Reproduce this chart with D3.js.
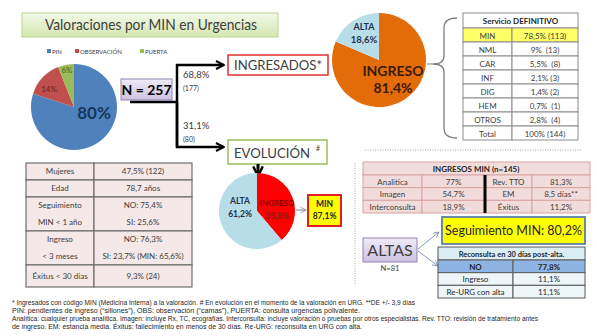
<!DOCTYPE html>
<html>
<head>
<meta charset="utf-8">
<script src="https://cdn.jsdelivr.net/npm/d3@7"></script>
<style>
  body { margin: 0; background: #fff; }
  text { font-family: Lato, 'Open Sans', sans-serif; fill: #404040; }
</style>
</head>
<body>
<script>
// ---- data ----
const origenLabels = ['PIN', 'OBSERVACIÓN', 'PUERTA'];
const origenValues = [80, 14, 6];
const origenColors = ['#4f81bd', '#c0504d', '#9bbb59'];
const totalN = 257;
const ramaPct = ['68,8%', '31,1%'];
const ramaN = [177, 80];
const ingresoLabels = ['INGRESO', 'ALTA'];
const ingresoValues = [81.4, 18.6];
const evolLabels = ['INGRESO', 'ALTA'];
const evolValues = [38.8, 61.2];
const evolMin = '87,1%';
const servicios = ['MIN', 'NML', 'CAR', 'INF', 'DIG', 'HEM', 'OTROS', 'Total'];
const servicioValues = ['78,5% (113)', '9%  (13)', '5,5%  (8)', '2,1% (3)', '1,4% (2)', '0,7%  (1)', '2,8%  (4)', '100% (144)'];
const perfilLabels = [['Mujeres'], ['Edad'], ['Seguimiento', 'MIN < 1 año'], ['Ingreso', '< 3 meses'], ['Éxitus < 30 dias']];
const perfilValues = [['47,5% (122)'], ['78,7 años'], ['NO: 75,4%', 'SI: 25,6%'], ['NO: 76,3%', 'SI: 23,7% (MIN: 65,6%)'], ['9,3% (24)']];
const perfilUnits = [1, 1, 2, 2, 1.3];
const ingMinA = ['Analitica', 'Imagen', 'Interconsulta'];
const ingMinAValues = ['77%', '54,7%', '18,9%'];
const ingMinB = ['Rev. TTO', 'EM', 'Éxitus'];
const ingMinBValues = ['81,3%', '8,5 días**', '11,2%'];
const seguimientoMin = '80,2%';
const altasN = 81;
const reconsultaLabels = ['NO', 'Ingreso', 'Re-URG con alta'];
const reconsultaValues = ['77,8%', '11,1%', '11,1%'];
const footnotes = [
  '* Ingresados con código MIN (Medicina Interna) a la valoración.  # En evolución en el momento de la valoración en URG.  **DE +/- 3,9 días',
  'PIN: pendientes de ingreso (“sillones”), OBS: observación (“camas”), PUERTA: consulta urgencias polivalente.',
  'Analítica: cualquier prueba analítica. Imagen: incluye Rx, TC, ecografías. Interconsulta: incluye valoración o pruebas por otros especialistas. Rev. TTO: revisión de tratamiento antes',
  'de ingreso. EM: estancia media.  Éxitus: fallecimiento en menos de 30 días.  Re-URG: reconsulta en URG con alta.'
];
const footnoteWidths = [403, 348, 526, 350];

// ---- svg ----
const svg = d3.select('body')
  .append('svg')
  .attr('width', 597)
  .attr('height', 336);

const defs = svg.append('defs');
function grad(id, c1, c2) {
  const g = defs.append('linearGradient').attr('id', id).attr('x1', 0).attr('y1', 0).attr('x2', 0).attr('y2', 1);
  g.append('stop').attr('offset', '0%').attr('stop-color', c1);
  g.append('stop').attr('offset', '100%').attr('stop-color', c2);
}
grad('greenGrad', '#f3f9e8', '#d4e7b0');
grad('lavGrad', '#efebf6', '#cdc2e2');

// arrow markers
defs.append('marker').attr('id', 'arrBlack')
  .attr('viewBox', '0 0 10 10').attr('refX', 9).attr('refY', 5)
  .attr('markerWidth', 4).attr('markerHeight', 4).attr('orient', 'auto')
  .attr('markerUnits', 'strokeWidth')
  .append('path').attr('d', 'M1,1 L9,5 L1,9').attr('fill', 'none').attr('stroke', '#000').attr('stroke-width', 2);
defs.append('marker').attr('id', 'arrGray')
  .attr('viewBox', '0 0 10 10').attr('refX', 9).attr('refY', 5)
  .attr('markerWidth', 7).attr('markerHeight', 7).attr('orient', 'auto')
  .attr('markerUnits', 'strokeWidth')
  .append('path').attr('d', 'M1,1 L9,5 L1,9').attr('fill', 'none').attr('stroke', '#7f8fa6').attr('stroke-width', 1.2);

// ---- title ----
svg.append('rect')
  .attr('x', 22).attr('y', 13).attr('width', 256).attr('height', 24)
  .attr('fill', 'url(#greenGrad)').attr('stroke', '#b9d38f');
svg.append('text')
  .attr('x', 45).attr('y', 30)
  .attr('font-size', 16)
  .attr('textLength', 212).attr('lengthAdjust', 'spacingAndGlyphs')
  .text('Valoraciones por MIN en Urgencias');

// ---- legend ----
const legX = d3.scaleOrdinal().domain(origenLabels).range([47, 75, 140]);
const leg = svg.append('g').selectAll('g')
  .data(origenLabels)
  .enter().append('g')
  .attr('transform', d => `translate(${legX(d)},49)`);
leg.append('rect').attr('width', 4).attr('height', 4).attr('fill', (d, i) => origenColors[i]);
leg.append('text').attr('x', 5).attr('y', 4.5).attr('font-size', 6).text(d => d);

// ---- pie helper ----
function drawPie(cx, cy, r, values, colors) {
  const pie = d3.pie().sort(null).value(d => d);
  const arc = d3.arc().innerRadius(0).outerRadius(r);
  const g = svg.append('g').attr('transform', `translate(${cx},${cy})`);
  g.selectAll('path')
    .data(pie(values))
    .enter().append('path')
    .attr('d', arc)
    .attr('fill', (d, i) => colors[i]);
  return g;
}

// origin pie
const pie1 = drawPie(74, 107, 43, origenValues, origenColors);
pie1.append('text').attr('x', 20).attr('y', 12).attr('text-anchor', 'middle')
  .attr('font-size', 17).attr('font-weight', 'bold').style('fill', '#17365d').text(origenValues[0] + '%');
pie1.append('text').attr('x', -25).attr('y', -15).attr('text-anchor', 'middle')
  .attr('font-size', 8).style('fill', '#632523').text(origenValues[1] + '%');
pie1.append('text').attr('x', -7).attr('y', -34).attr('text-anchor', 'middle')
  .attr('font-size', 8).style('fill', '#4f6228').text(origenValues[2] + '%');

// ---- N box and branches ----
svg.append('rect')
  .attr('x', 121).attr('y', 79).attr('width', 51).attr('height', 21)
  .attr('fill', 'url(#lavGrad)').attr('stroke', '#9383b5');
svg.append('text').attr('x', 146.5).attr('y', 95).attr('text-anchor', 'middle')
  .attr('font-size', 14).attr('font-weight', 'bold').style('fill', '#000')
  .text('N = ' + totalN);

const branch = svg.append('g').attr('fill', 'none').attr('stroke', '#000').attr('stroke-width', 2.5);
branch.append('path').attr('d', 'M130,102 H177');
branch.append('path').attr('d', 'M177,147 V65 H224').attr('marker-end', 'url(#arrBlack)');
branch.append('path').attr('d', 'M177,102 V147 H224').attr('marker-end', 'url(#arrBlack)');

const ramaY = [78, 129];
ramaPct.forEach((p, i) => {
  svg.append('text').attr('x', 183).attr('y', ramaY[i]).attr('font-size', 9.5).text(p);
  svg.append('text').attr('x', 183).attr('y', ramaY[i] + 13).attr('font-size', 7).text('(' + ramaN[i] + ')');
});

// INGRESADOS box
svg.append('rect').attr('x', 228).attr('y', 55).attr('width', 100).attr('height', 20)
  .attr('fill', '#fff').attr('stroke', '#e03030').attr('stroke-width', 1.5);
svg.append('text').attr('x', 234).attr('y', 70).attr('font-size', 13)
  .attr('textLength', 88).attr('lengthAdjust', 'spacingAndGlyphs')
  .text('INGRESADOS*');

// EVOLUCION box
svg.append('rect').attr('x', 228).attr('y', 140).attr('width', 99).attr('height', 24)
  .attr('fill', '#fff').attr('stroke', '#9bbb59').attr('stroke-width', 1.5);
svg.append('text').attr('x', 234).attr('y', 158).attr('font-size', 14)
  .attr('textLength', 76).attr('lengthAdjust', 'spacingAndGlyphs')
  .text('EVOLUCIÓN');
svg.append('text').attr('x', 316).attr('y', 151).attr('font-size', 7).text('#');

// ---- ingreso pie ----
const pie2 = drawPie(379, 60, 47, ingresoValues, ['#e36c09', '#b7dde8']);
pie2.append('text').attr('x', -15).attr('y', -30).attr('text-anchor', 'middle')
  .attr('font-size', 9).attr('font-weight', 'bold').style('fill', '#1f3050').text(ingresoLabels[1]);
pie2.append('text').attr('x', -15).attr('y', -17).attr('text-anchor', 'middle')
  .attr('font-size', 9.5).attr('font-weight', 'bold').style('fill', '#1f3050').text('18,6%');
pie2.append('text').attr('x', 14).attr('y', 16).attr('text-anchor', 'middle')
  .attr('font-size', 14).attr('font-weight', 'bold').style('fill', '#3b1a08').text(ingresoLabels[0]);
pie2.append('text').attr('x', 14).attr('y', 33).attr('text-anchor', 'middle')
  .attr('font-size', 14).attr('font-weight', 'bold').style('fill', '#3b1a08').text('81,4%');

// brace
svg.append('path')
  .attr('d', 'M457,18 Q444,18 444,28 L444,56 Q444,64 433,64 Q444,64 444,72 L444,128 Q444,138 457,138')
  .attr('fill', 'none').attr('stroke', '#7f7f7f').attr('stroke-width', 1.3);
svg.append('line').attr('x1', 427).attr('x2', 433).attr('y1', 64).attr('y2', 64).attr('stroke', '#7f7f7f');

// ---- servicio table ----
const servY = d3.scaleBand().domain(servicios).range([28, 140]);
const servG = svg.append('g');
servG.append('rect').attr('x', 463).attr('y', 13).attr('width', 115).attr('height', 15)
  .attr('fill', '#fff').attr('stroke', '#8c8c8c');
servG.append('text').attr('x', 520.5).attr('y', 23.5).attr('text-anchor', 'middle')
  .attr('font-size', 8).attr('font-weight', 'bold').style('fill', '#262626').text('Servicio DEFINITIVO');
const servRows = servG.selectAll('g.row')
  .data(servicios)
  .enter().append('g')
  .attr('class', 'row')
  .attr('transform', d => `translate(0,${servY(d)})`);
servRows.append('rect').attr('x', 463).attr('width', 49).attr('height', servY.bandwidth())
  .attr('fill', (d, i) => i === 0 ? '#ffff66' : '#fff').attr('stroke', '#8c8c8c');
servRows.append('rect').attr('x', 512).attr('width', 66).attr('height', servY.bandwidth())
  .attr('fill', (d, i) => i === 0 ? '#ffff66' : '#fff').attr('stroke', '#8c8c8c');
servRows.append('text').attr('x', 487.5).attr('y', 10.5).attr('text-anchor', 'middle')
  .attr('font-size', 8).text(d => d);
servRows.append('text').attr('x', 545).attr('y', 10.5).attr('text-anchor', 'middle')
  .attr('font-size', 8).style('white-space', 'pre').attr('xml:space', 'preserve')
  .text((d, i) => servicioValues[i]);

// dotted separators
svg.append('line').attr('x1', 365).attr('x2', 582).attr('y1', 150).attr('y2', 150)
  .attr('stroke', '#a6a6a6').attr('stroke-dasharray', '1,1.5');
svg.append('line').attr('x1', 355).attr('x2', 355).attr('y1', 163).attr('y2', 285)
  .attr('stroke', '#a6a6a6').attr('stroke-dasharray', '1,1.5');

// ---- perfil table ----
const cum = [0];
perfilUnits.forEach(u => cum.push(cum[cum.length - 1] + u));
const perfY = d3.scaleLinear().domain([0, cum[cum.length - 1]]).range([163, 287]);
const perfG = svg.append('g');
perfilLabels.forEach((lab, i) => {
  const y0 = perfY(cum[i]), y1 = perfY(cum[i + 1]);
  [[26, 68, lab], [94, 98, perfilValues[i]]].forEach(([x, w, lines]) => {
    perfG.append('rect').attr('x', x).attr('y', y0).attr('width', w).attr('height', y1 - y0)
      .attr('fill', '#f4e8e8').attr('stroke', '#6e6e6e').attr('stroke-width', 1.2);
    const lh = (y1 - y0) / lines.length;
    lines.forEach((t, j) => {
      perfG.append('text').attr('x', x + w / 2).attr('y', y0 + lh * j + lh / 2 + 3)
        .attr('text-anchor', 'middle').attr('font-size', 8).text(t);
    });
  });
});

// ---- evolucion pie ----
svg.append('path').attr('d', 'M258,164 V176').attr('stroke', '#000').attr('stroke-width', 3)
  .attr('marker-end', 'url(#arrBlack)');
const pie3 = drawPie(257, 211, 38, evolValues, ['#ff0000', '#b7dde8']);
pie3.append('text').attr('x', -17).attr('y', -7).attr('text-anchor', 'middle')
  .attr('font-size', 8.5).attr('font-weight', 'bold').style('fill', '#1f3050').text(evolLabels[1]);
pie3.append('text').attr('x', -17).attr('y', 6).attr('text-anchor', 'middle')
  .attr('font-size', 8.5).attr('font-weight', 'bold').style('fill', '#1f3050').text('61,2%');
pie3.append('text').attr('x', 20).attr('y', -5).attr('text-anchor', 'middle')
  .attr('font-size', 8).attr('font-weight', 'bold').style('fill', '#7a0000').text(evolLabels[0]);
pie3.append('text').attr('x', 20).attr('y', 8).attr('text-anchor', 'middle')
  .attr('font-size', 8.5).attr('font-weight', 'bold').style('fill', '#8b1a1a').text('38,8%');
svg.append('path').attr('d', 'M296,210 H306').attr('stroke', '#7f7f7f').attr('stroke-width', 1)
  .attr('marker-end', 'url(#arrGray)');
svg.append('rect').attr('x', 308).attr('y', 195).attr('width', 33).attr('height', 31)
  .attr('fill', '#ffff00').attr('stroke', '#e02020').attr('stroke-width', 2);
svg.append('text').attr('x', 324.5).attr('y', 207).attr('text-anchor', 'middle')
  .attr('font-size', 8.5).attr('font-weight', 'bold').style('fill', '#262626').text('MIN');
svg.append('text').attr('x', 324.5).attr('y', 219).attr('text-anchor', 'middle')
  .attr('font-size', 8.5).attr('font-weight', 'bold').style('fill', '#262626').text(evolMin);

// ---- ingresos MIN table ----
const imY = d3.scaleBand().domain(d3.range(ingMinA.length)).range([175, 213]);
const imCols = [363, 422, 485, 532, 590];
const imG = svg.append('g');
imG.append('rect').attr('x', 363).attr('y', 162).attr('width', 227).attr('height', 13)
  .attr('fill', '#f2dcdb').attr('stroke', '#d9a3a1');
imG.append('text').attr('x', 476).attr('y', 171.5).attr('text-anchor', 'middle')
  .attr('font-size', 8).attr('font-weight', 'bold').style('fill', '#262626').text('INGRESOS MIN (n=145)');
const imCells = [ingMinA, ingMinAValues, ingMinB, ingMinBValues];
imCells.forEach((col, c) => {
  imG.selectAll(null).data(col).enter().append('rect')
    .attr('x', imCols[c]).attr('y', (d, i) => imY(i))
    .attr('width', imCols[c + 1] - imCols[c]).attr('height', imY.bandwidth())
    .attr('fill', '#f2dcdb').attr('stroke', '#d9a3a1');
  imG.selectAll(null).data(col).enter().append('text')
    .attr('x', (imCols[c] + imCols[c + 1]) / 2).attr('y', (d, i) => imY(i) + 9.5)
    .attr('text-anchor', 'middle').attr('font-size', 8).text(d => d);
});
imG.append('line').attr('x1', 485).attr('x2', 485).attr('y1', 175).attr('y2', 213)
  .attr('stroke', '#000').attr('stroke-width', 3);

// ---- altas ----
svg.append('rect').attr('x', 363).attr('y', 238).attr('width', 54).attr('height', 24)
  .attr('fill', 'url(#lavGrad)').attr('stroke', '#9383b5');
svg.append('text').attr('x', 390).attr('y', 256).attr('text-anchor', 'middle')
  .attr('font-size', 16).text('ALTAS');
svg.append('text').attr('x', 390).attr('y', 271).attr('text-anchor', 'middle')
  .attr('font-size', 7.5).text('N=' + altasN);
const altArr = svg.append('g').attr('stroke', '#7f9bbf').attr('stroke-width', 1).attr('fill', 'none');
altArr.append('path').attr('d', 'M418,249 L439,232').attr('marker-end', 'url(#arrGray)');
altArr.append('path').attr('d', 'M418,251 L438,266').attr('marker-end', 'url(#arrGray)');

svg.append('rect').attr('x', 442).attr('y', 217).attr('width', 143).attr('height', 27)
  .attr('fill', '#ffff00').attr('stroke', '#5a7fa6').attr('stroke-width', 1.8);
svg.append('text').attr('x', 513.5).attr('y', 235).attr('font-size', 12.5)
  .attr('text-anchor', 'middle')
  .style('fill', '#262626').text('Seguimiento MIN: ' + seguimientoMin);

// ---- reconsulta table ----
const rcY = d3.scaleBand().domain(reconsultaLabels).range([260, 298]);
const rcG = svg.append('g');
rcG.append('rect').attr('x', 438).attr('y', 247).attr('width', 147).attr('height', 13)
  .attr('fill', '#dbeef3').attr('stroke', '#595959');
rcG.append('text').attr('x', 511.5).attr('y', 256.5).attr('text-anchor', 'middle')
  .attr('font-size', 7.5).attr('font-weight', 'bold').style('fill', '#262626')
  .text('Reconsulta en 30 días post-alta.');
const rcRows = rcG.selectAll('g.rc')
  .data(reconsultaLabels)
  .enter().append('g')
  .attr('class', 'rc')
  .attr('transform', d => `translate(0,${rcY(d)})`);
rcRows.append('rect').attr('x', 438).attr('width', 75).attr('height', rcY.bandwidth())
  .attr('fill', (d, i) => i === 0 ? '#8eb4e3' : '#eef6fa').attr('stroke', '#595959');
rcRows.append('rect').attr('x', 513).attr('width', 72).attr('height', rcY.bandwidth())
  .attr('fill', (d, i) => i === 0 ? '#8eb4e3' : '#eef6fa').attr('stroke', '#595959');
rcRows.append('text').attr('x', 475.5).attr('y', 9.5).attr('text-anchor', 'middle')
  .attr('font-size', 8).attr('font-weight', (d, i) => i === 0 ? 'bold' : 'normal')
  .style('fill', '#262626').text(d => d);
rcRows.append('text').attr('x', 549).attr('y', 9.5).attr('text-anchor', 'middle')
  .attr('font-size', 8).attr('font-weight', (d, i) => i === 0 ? 'bold' : 'normal')
  .style('fill', '#262626').text((d, i) => reconsultaValues[i]);

// ---- footnotes ----
svg.append('g').selectAll('text')
  .data(footnotes)
  .enter().append('text')
  .attr('x', 12)
  .attr('y', (d, i) => 305 + i * 8)
  .attr('font-size', 6.3)
  .attr('textLength', (d, i) => footnoteWidths[i])
  .attr('lengthAdjust', 'spacingAndGlyphs')
  .style('font-family', "'Liberation Sans Narrow', 'Liberation Sans', sans-serif")
  .style('fill', '#262626')
  .text(d => d);
</script>
</body>
</html>
